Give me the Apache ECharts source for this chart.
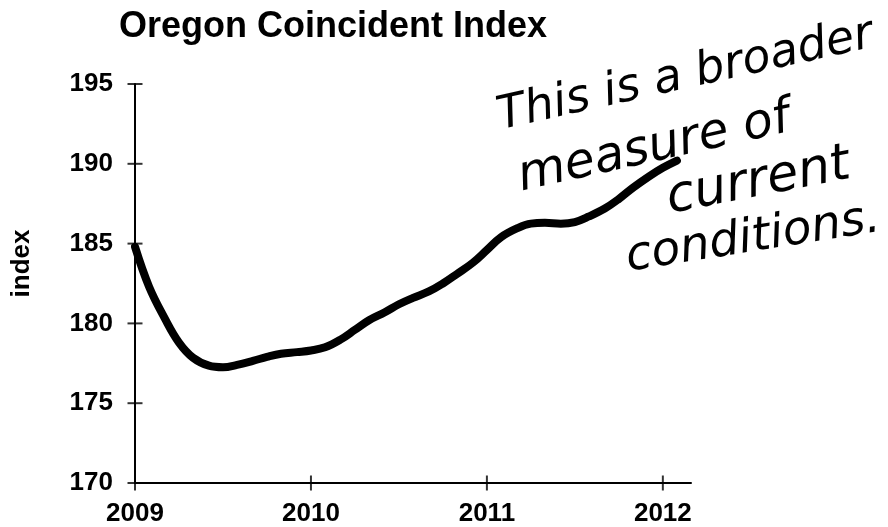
<!DOCTYPE html>
<html>
<head>
<meta charset="utf-8">
<title>Oregon Coincident Index</title>
<script src="https://cdn.jsdelivr.net/npm/echarts@6/dist/echarts.min.js"></script>
<style>
  html, body { margin: 0; padding: 0; background: #fff; }
  #chart { width: 888px; height: 527px; }
</style>
</head>
<body>
<div id="chart"></div>
<script>
// monthly points, as fractions of a year
const months = [
  2009.00, 2009.08, 2009.17, 2009.25, 2009.33, 2009.42, 2009.50, 2009.58, 2009.67, 2009.75, 2009.83, 2009.92,
  2010.00, 2010.08, 2010.17, 2010.25, 2010.33, 2010.42, 2010.50, 2010.58, 2010.67, 2010.75, 2010.83, 2010.92,
  2011.00, 2011.08, 2011.17, 2011.25, 2011.33, 2011.42, 2011.50, 2011.58, 2011.67, 2011.75, 2011.83, 2011.92,
  2012.00, 2012.08
];
const indexValues = [
  184.8, 182.3, 180.3, 178.8, 177.85, 177.35, 177.25, 177.4, 177.65, 177.9, 178.1, 178.2,
  178.3, 178.5, 179.0, 179.6, 180.2, 180.7, 181.2, 181.6, 182.0, 182.5, 183.1, 183.8,
  184.6, 185.4, 185.95, 186.25, 186.3, 186.25, 186.35, 186.7, 187.2, 187.8, 188.5, 189.2,
  189.75, 190.2
];
const yearTicks = [2009, 2010, 2011, 2012];
const indexTicks = [170, 175, 180, 185, 190, 195];

// handwritten note, one entry per line
const noteLines = ['This is a broader', 'measure of', 'current', 'conditions.'];

const font = '"Liberation Sans", Arial, sans-serif';
const hand = '"DejaVu Sans", sans-serif';

const chart = echarts.init(document.getElementById('chart'), null, { renderer: 'canvas' });

const notePos = [
  { x: 503, y: 140, r: 12.5, size: 46 },
  { x: 524, y: 202, r: 12.5, size: 49 },
  { x: 672, y: 225, r: 11, size: 51 },
  { x: 630, y: 282, r: 9, size: 47 }
];

// the ticks cross the axis line, so they are drawn as small marks
const tickMark = (data, size) => ({
  type: 'scatter',
  data: data,
  symbol: 'rect',
  symbolSize: size,
  itemStyle: { color: '#000' },
  clip: false,
  silent: true,
  z: 3
});

chart.setOption({
  animation: false,
  backgroundColor: '#fff',
  title: {
    text: 'Oregon Coincident Index',
    left: 114,
    top: 4,
    textStyle: { fontFamily: font, fontWeight: 'bold', fontSize: 36, color: '#000' }
  },
  grid: { left: 135, right: 197, top: 84, bottom: 43 },
  xAxis: {
    type: 'value',
    min: 2009,
    max: 2012.16,
    axisLine: { lineStyle: { color: '#000', width: 2 } },
    axisTick: { show: false },
    axisLabel: {
      customValues: yearTicks,
      margin: 18,
      formatter: v => String(v),
      fontFamily: font, fontWeight: 'bold', fontSize: 26, color: '#000'
    },
    splitLine: { show: false }
  },
  yAxis: {
    type: 'value',
    min: 170,
    max: 195,
    interval: 5,
    name: 'index',
    nameLocation: 'middle',
    nameGap: 100,
    nameRotate: 90,
    nameTextStyle: {
      fontFamily: font, fontWeight: 'bold', fontSize: 26, color: '#000',
      padding: [0, 0, 0, 40]
    },
    axisLine: { show: true, lineStyle: { color: '#000', width: 2 } },
    axisTick: { show: false },
    axisLabel: { margin: 22, fontFamily: font, fontWeight: 'bold', fontSize: 26, color: '#000' },
    splitLine: { show: false }
  },
  series: [
    {
      type: 'line',
      data: months.map((m, i) => [m, indexValues[i]]),
      smooth: 0.4,
      showSymbol: false,
      lineStyle: { color: '#000', width: 8, cap: 'round', join: 'round' }
    },
    tickMark(indexTicks.map(v => [2009, v]), [15, 2]),
    tickMark(yearTicks.map(y => [y, 170]), [2, 15])
  ],
  graphic: noteLines.map((t, i) => ({
    type: 'text',
    x: notePos[i].x,
    y: notePos[i].y,
    rotation: notePos[i].r * Math.PI / 180,
    style: {
      text: t,
      fontFamily: hand,
      fontStyle: 'italic',
      fontWeight: 'normal',
      fontSize: notePos[i].size,
      fill: '#000',
      textAlign: 'left',
      textVerticalAlign: 'bottom'
    }
  }))
});
</script>
</body>
</html>
